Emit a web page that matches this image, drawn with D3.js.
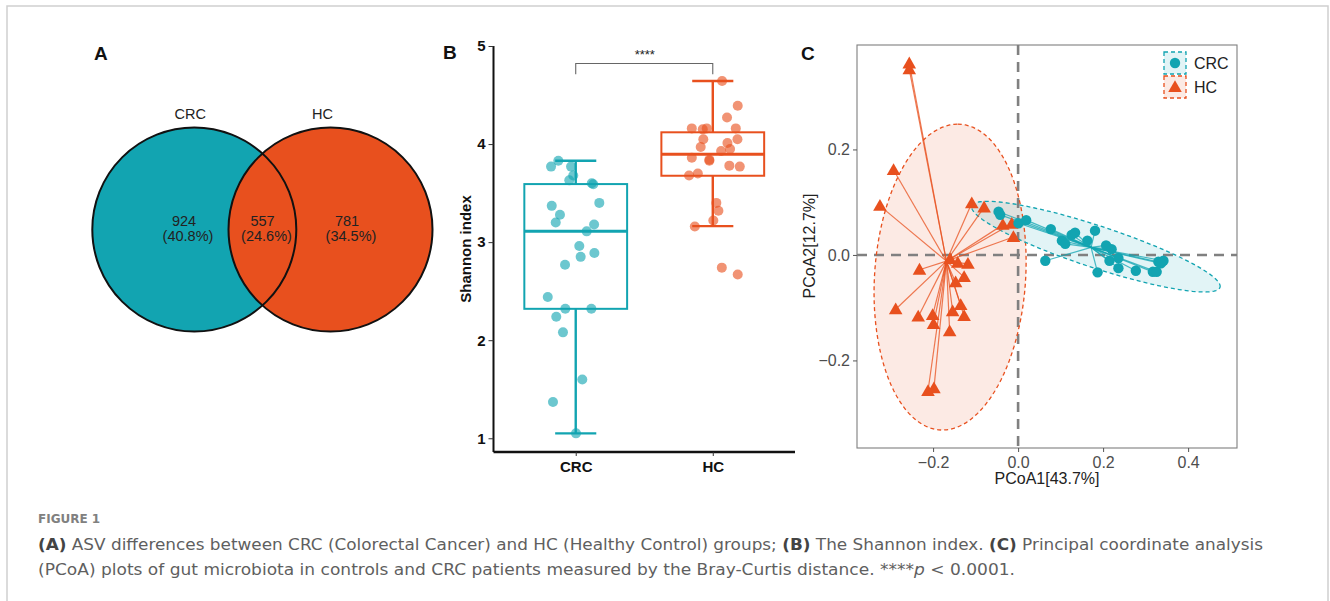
<!DOCTYPE html>
<html>
<head>
<meta charset="utf-8">
<script src="https://cdn.jsdelivr.net/npm/d3@7"></script>
<style>
  body { margin: 0; background: #fff; }
  text { font-family: "Liberation Sans", Arial, sans-serif; }
  .cap { font-family: "DejaVu Sans", "Open Sans", sans-serif; }
</style>
</head>
<body>
<svg id="fig" width="1330" height="601"></svg>
<script>
// colours
const teal = "#12a4b1";
const orange = "#e8501e";

// ---- panel A data
const vennSets = ["CRC", "HC"];
const vennCounts = [924, 557, 781]; // CRC only, shared, HC only

// ---- panel B data : [shannon, jitter]
const groups = ["CRC", "HC"];
const crcShannon = [
  [3.83, -0.127], [3.77, -0.18], [3.77, -0.034], [3.68, -0.018], [3.63, -0.047],
  [3.60, 0.117], [3.59, 0.128], [3.40, 0.172], [3.37, -0.175], [3.28, -0.115],
  [3.20, -0.146], [3.18, 0.134], [3.11, 0.08], [2.96, 0.026], [2.89, 0.136],
  [2.85, 0.036], [2.77, -0.078], [2.44, -0.204], [2.32, -0.076], [2.32, 0.114],
  [2.24, -0.142], [2.08, -0.093], [1.60, 0.048], [1.37, -0.166], [1.05, 0.002]
];
const hcShannon = [
  [4.643, 0.068], [4.39, 0.182], [4.27, 0.104], [4.16, -0.153], [4.15, -0.073],
  [4.16, -0.044], [4.16, 0.168], [4.05, -0.069], [4.05, 0.18], [4.01, 0.107],
  [3.97, -0.088], [3.93, 0.061], [3.95, 0.126], [3.86, -0.153], [3.84, -0.025],
  [3.83, -0.025], [3.78, 0.121], [3.77, 0.197], [3.70, -0.109], [3.68, -0.173],
  [3.40, 0.026], [3.32, 0.041], [3.22, 0.004], [3.16, -0.131], [2.74, 0.066],
  [2.67, 0.182]
];
// box stats [lowerWhisker, q1, median, q3, upperWhisker]
const crcBox = [1.05, 2.32, 3.112, 3.592, 3.83];
const hcBox = [3.163, 3.677, 3.895, 4.12, 4.643];
const shannonTicks = [1, 2, 3, 4, 5];

// ---- panel C data : [PCoA1, PCoA2]
const crcPcoa = [
  [-0.046, 0.082], [-0.042, 0.076], [0.001, 0.060], [0.019, 0.066], [0.077, 0.049],
  [0.064, -0.011], [0.103, 0.027], [0.111, 0.021], [0.126, 0.038], [0.134, 0.042],
  [0.163, 0.027], [0.181, 0.046], [0.187, -0.033], [0.207, 0.018], [0.220, 0.011],
  [0.215, -0.011], [0.236, -0.006], [0.236, -0.025], [0.277, -0.030], [0.317, -0.032],
  [0.326, -0.032], [0.330, -0.013], [0.342, -0.011], [0.336, -0.016]
];
const hcPcoa = [
  [-0.256, 0.363], [-0.256, 0.352], [-0.293, 0.161], [-0.325, 0.093], [-0.109, 0.098],
  [-0.080, 0.090], [-0.036, 0.057], [-0.015, 0.059], [-0.011, 0.034], [-0.160, -0.008],
  [-0.142, -0.015], [-0.118, -0.017], [-0.232, -0.028], [-0.127, -0.042], [-0.147, -0.052],
  [-0.288, -0.103], [-0.235, -0.117], [-0.201, -0.114], [-0.199, -0.131], [-0.154, -0.107],
  [-0.135, -0.095], [-0.127, -0.116], [-0.161, -0.145], [-0.212, -0.258], [-0.198, -0.253]
];
// ellipse: centre, semi-diameter u, semi-diameter v (data units)
const crcEllipse = { c: [0.183, 0.0157], u: [0.292, -0.0772], v: [0.0153, 0.0378] };
const hcEllipse = { c: [-0.16, -0.042], u: [0.018, 0.29], v: [0.178, 0.0] };
const pcoaTicks = [-0.2, 0, 0.2, 0.4];
const pcoaYTicks = [-0.2, 0, 0.2];

const svg = d3.select("#fig");

// figure frame
svg.append("rect").attr("x", 7).attr("y", 6).attr("width", 1321).attr("height", 620)
  .attr("fill", "none").attr("stroke", "#cfcfcf").attr("stroke-width", 1.5);

function panelLabel(t, x, y) {
  svg.append("text").attr("x", x).attr("y", y).text(t)
    .attr("font-size", 19).attr("font-weight", "bold").attr("fill", "#111");
}
panelLabel("A", 94, 60);
panelLabel("B", 443, 59);
panelLabel("C", 801, 60);

// ================= A : Venn
{
  const g = svg.append("g");
  const r = 102, cy = 229.5, cx = [194.3, 330.5];
  const fills = [teal, orange];
  const total = d3.sum(vennCounts);
  g.selectAll("circle.fill").data(vennSets).join("circle")
    .attr("cx", (d, i) => cx[i]).attr("cy", cy).attr("r", r)
    .attr("fill", (d, i) => fills[i]);
  g.selectAll("circle.line").data(vennSets).join("circle")
    .attr("cx", (d, i) => cx[i]).attr("cy", cy).attr("r", r)
    .attr("fill", "none").attr("stroke", "#111").attr("stroke-width", 2);
  g.selectAll("text.set").data(vennSets).join("text")
    .attr("x", (d, i) => cx[i] - 4 + i * (-4)).attr("y", 119)
    .attr("text-anchor", "middle").attr("font-size", 14.5).attr("fill", "#222")
    .text(d => d);
  const lx = [186, 264.5, 349];
  const pct = d3.format(".1%");
  vennCounts.forEach((v, i) => {
    g.append("text").attr("x", lx[i] - 2).attr("y", 225.5)
      .attr("text-anchor", "middle").attr("font-size", 14.5).attr("fill", "#222").text(v);
    g.append("text").attr("x", lx[i] + 2).attr("y", 240.5)
      .attr("text-anchor", "middle").attr("font-size", 14.5).attr("fill", "#222")
      .text("(" + pct(v / total) + ")");
  });
}

// ================= B : boxplot
{
  const g = svg.append("g");
  const x = d3.scaleLinear().domain([0.4, 2.6]).range([493.5, 795]);
  const y = d3.scaleLinear().domain([0.86, 5]).range([452, 46]);
  const cols = [teal, orange];
  const ptCols = ["rgba(18,164,177,0.62)", "rgba(232,80,30,0.62)"];
  const boxes = [crcBox, hcBox];
  const pts = [crcShannon, hcShannon];

  boxes.forEach((b, i) => {
    const xc = i + 1, bw = 0.375, cw = 0.15;
    // whiskers
    g.append("line").attr("x1", x(xc)).attr("x2", x(xc)).attr("y1", y(b[3])).attr("y2", y(b[4]))
      .attr("stroke", cols[i]).attr("stroke-width", 2.4);
    g.append("line").attr("x1", x(xc)).attr("x2", x(xc)).attr("y1", y(b[1])).attr("y2", y(b[0]))
      .attr("stroke", cols[i]).attr("stroke-width", 2.4);
    [b[0], b[4]].forEach(v => {
      g.append("line").attr("x1", x(xc - cw)).attr("x2", x(xc + cw)).attr("y1", y(v)).attr("y2", y(v))
        .attr("stroke", cols[i]).attr("stroke-width", 2.4);
    });
    g.append("rect").attr("x", x(xc - bw)).attr("width", x(xc + bw) - x(xc - bw))
      .attr("y", y(b[3])).attr("height", y(b[1]) - y(b[3]))
      .attr("fill", "#fff").attr("stroke", cols[i]).attr("stroke-width", 2);
    g.append("line").attr("x1", x(xc - bw)).attr("x2", x(xc + bw)).attr("y1", y(b[2])).attr("y2", y(b[2]))
      .attr("stroke", cols[i]).attr("stroke-width", 3);
  });

  pts.forEach((p, i) => {
    g.selectAll(null).data(p).join("circle")
      .attr("cx", d => x(i + 1 + d[1])).attr("cy", d => y(d[0])).attr("r", 5)
      .attr("fill", ptCols[i]);
  });

  // axes
  const ya = g.append("g").attr("transform", "translate(493.5,0)")
    .call(d3.axisLeft(y).tickValues(shannonTicks).tickSize(5).tickFormat(d3.format("d")));
  ya.select(".domain").attr("stroke", "#111").attr("stroke-width", 2).attr("d", "M0,46V452");
  ya.selectAll(".tick line").attr("stroke", "#333");
  ya.selectAll(".tick text").attr("font-size", 15).attr("font-weight", "bold")
    .attr("fill", "#111").attr("font-family", "Liberation Sans, Arial, sans-serif");
  const xa = g.append("g").attr("transform", "translate(0,452)")
    .call(d3.axisBottom(x).tickValues([1, 2]).tickSize(4).tickFormat(d => groups[d - 1]));
  xa.select(".domain").attr("stroke", "#111").attr("stroke-width", 2.4).attr("d", "M493.5,0H795");
  xa.selectAll(".tick line").attr("stroke", "#333");
  xa.selectAll(".tick text").attr("font-size", 15).attr("font-weight", "bold").attr("dy", "0.85em")
    .attr("fill", "#111").attr("font-family", "Liberation Sans, Arial, sans-serif");

  g.append("text").attr("transform", "translate(471,249) rotate(-90)")
    .attr("text-anchor", "middle").attr("font-size", 15).attr("font-weight", "bold")
    .attr("fill", "#111").text("Shannon index");

  // significance bracket
  g.append("path")
    .attr("d", `M${x(1)},${y(4.713)}V${y(4.822)}H${x(2)}V${y(4.713)}`)
    .attr("fill", "none").attr("stroke", "#666").attr("stroke-width", 1.1);
  g.append("text").attr("x", (x(1) + x(2)) / 2 + 0.5).attr("y", 59)
    .attr("text-anchor", "middle").attr("font-size", 13).attr("fill", "#222").text("****");
}

// ================= C : PCoA
{
  const g = svg.append("g");
  const x = d3.scaleLinear().domain([-0.379, 0.515]).range([857, 1237]);
  const y = d3.scaleLinear().domain([-0.366, 0.398]).range([448, 45]);
  const cols = [teal, orange];
  const ellFill = ["rgba(18,164,177,0.12)", "rgba(232,80,30,0.12)"];

  g.append("clipPath").attr("id", "pclip").append("rect")
    .attr("x", 857).attr("y", 45).attr("width", 380).attr("height", 403);
  const inner = g.append("g").attr("clip-path", "url(#pclip)");

  const ellPath = e => {
    const pts = d3.range(0, 361, 3).map(a => {
      const t = a * Math.PI / 180;
      return [x(e.c[0] + Math.cos(t) * e.u[0] + Math.sin(t) * e.v[0]),
              y(e.c[1] + Math.cos(t) * e.u[1] + Math.sin(t) * e.v[1])];
    });
    return d3.line()(pts) + "Z";
  };
  const ells = [crcEllipse, hcEllipse];
  [1, 0].forEach(i => {
    inner.append("path").attr("d", ellPath(ells[i])).attr("fill", ellFill[i]);
  });

  // zero lines
  inner.append("line").attr("x1", 857).attr("x2", 1237).attr("y1", y(0)).attr("y2", y(0))
    .attr("stroke", "#808080").attr("stroke-width", 2.6).attr("stroke-dasharray", "10,7");
  inner.append("line").attr("x1", x(0)).attr("x2", x(0)).attr("y1", 45).attr("y2", 448)
    .attr("stroke", "#808080").attr("stroke-width", 2.6).attr("stroke-dasharray", "10,7");

  [1, 0].forEach(i => {
    inner.append("path").attr("d", ellPath(ells[i])).attr("fill", "none")
      .attr("stroke", cols[i]).attr("stroke-width", 1.3).attr("stroke-dasharray", "4,3");
  });

  const sets = [crcPcoa, hcPcoa];
  sets.forEach((p, i) => {
    const cx = d3.mean(p, d => d[0]), cy = d3.mean(p, d => d[1]);
    inner.selectAll(null).data(p).join("line")
      .attr("x1", x(cx)).attr("y1", y(cy))
      .attr("x2", d => x(d[0])).attr("y2", d => y(d[1]))
      .attr("stroke", cols[i]).attr("stroke-opacity", 0.75).attr("stroke-width", 1.2);
  });
  inner.selectAll(null).data(hcPcoa).join("path")
    .attr("d", d3.symbol(d3.symbolTriangle, 80))
    .attr("transform", d => `translate(${x(d[0])},${y(d[1]) + 1})`)
    .attr("fill", orange);
  inner.selectAll(null).data(crcPcoa).join("circle")
    .attr("cx", d => x(d[0])).attr("cy", d => y(d[1])).attr("r", 5.2)
    .attr("fill", teal);

  g.append("rect").attr("x", 857).attr("y", 45).attr("width", 380).attr("height", 403)
    .attr("fill", "none").attr("stroke", "#7f7f7f").attr("stroke-width", 1.1);

  const xa = g.append("g").attr("transform", "translate(0,448)")
    .call(d3.axisBottom(x).tickValues(pcoaTicks).tickSize(4).tickFormat(d3.format(".1f")));
  xa.select(".domain").remove();
  xa.selectAll(".tick line").attr("stroke", "#555");
  xa.selectAll(".tick text").attr("font-size", 16).attr("fill", "#4d4d4d").attr("dy", "0.8em")
    .attr("font-family", "Liberation Sans, Arial, sans-serif");
  const ya = g.append("g").attr("transform", "translate(857,0)")
    .call(d3.axisLeft(y).tickValues(pcoaYTicks).tickSize(4).tickFormat(d3.format(".1f")));
  ya.select(".domain").remove();
  ya.selectAll(".tick line").attr("stroke", "#555");
  ya.selectAll(".tick text").attr("font-size", 16).attr("fill", "#4d4d4d")
    .attr("font-family", "Liberation Sans, Arial, sans-serif");

  g.append("text").attr("x", 1047).attr("y", 484).attr("text-anchor", "middle")
    .attr("font-size", 16).attr("fill", "#222").text("PCoA1[43.7%]");
  g.append("text").attr("transform", "translate(815,246) rotate(-90)").attr("text-anchor", "middle")
    .attr("font-size", 16).attr("fill", "#222").text("PCoA2[12.7%]");

  // legend
  const lg = g.append("g").attr("transform", "translate(1164,52)");
  groups.forEach((name, i) => {
    const row = lg.append("g").attr("transform", `translate(0,${i * 24})`);
    row.append("rect").attr("width", 22).attr("height", 22).attr("fill", ellFill[i])
      .attr("stroke", cols[i]).attr("stroke-width", 1.3).attr("stroke-dasharray", "4,3");
    if (i === 0) row.append("circle").attr("cx", 11).attr("cy", 11).attr("r", 5.2).attr("fill", teal);
    else row.append("path").attr("d", d3.symbol(d3.symbolTriangle, 80))
      .attr("transform", "translate(11,12)").attr("fill", orange);
    row.append("text").attr("x", 30).attr("y", 17).attr("font-size", 16).attr("fill", "#222").text(name);
  });
}

// ================= caption
{
  const cap = svg.append("g").attr("class", "cap");
  cap.append("text").attr("class", "cap").attr("x", 38).attr("y", 523)
    .attr("font-size", 12).attr("font-weight", "bold").attr("fill", "#808080").text("FIGURE 1");
  const lines = [
    [["(A)", true], [" ASV differences between CRC (Colorectal Cancer) and HC (Healthy Control) groups; ", false],
     ["(B)", true], [" The Shannon index. ", false], ["(C)", true], [" Principal coordinate analysis", false]],
    [["(PCoA) plots of gut microbiota in controls and CRC patients measured by the Bray-Curtis distance. ****", false],
     ["p", "i"], [" < 0.0001.", false]]
  ];
  const widths = [1225, 977];
  lines.forEach((ln, k) => {
    const t = cap.append("text").attr("class", "cap").attr("x", 38).attr("y", 550 + k * 25)
      .attr("font-size", 15.5).attr("fill", "#5f5f5f")
      .attr("textLength", widths[k]).attr("lengthAdjust", "spacingAndGlyphs");
    ln.forEach(([s, b]) => {
      const ts = t.append("tspan").text(s);
      if (b === true) ts.attr("font-weight", "bold").attr("fill", "#444");
      if (b === "i") ts.attr("font-style", "italic");
    });
  });
}
</script>
</body>
</html>
